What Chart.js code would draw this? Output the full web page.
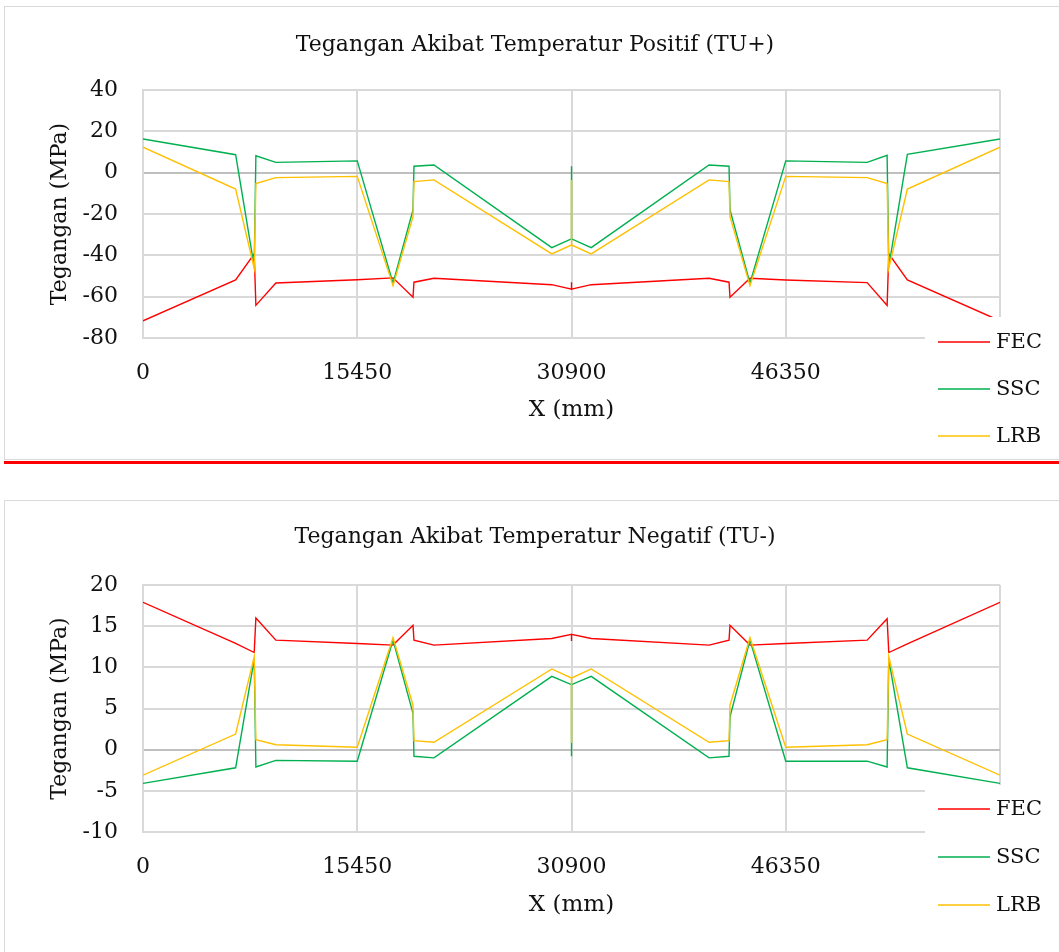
<!DOCTYPE html>
<html>
<head>
<meta charset="utf-8">
<script src="https://cdn.jsdelivr.net/npm/chart.js@4"></script>
<style>
  body { margin: 0; background: #fff; width: 1059px; height: 952px; overflow: hidden; position: relative; }
  .box { position: absolute; left: 4px; width: 1100px; border: 1.5px solid #d9d9d9; background: #fff; }
  .redline { position: absolute; left: 4px; right: 0; top: 461px; height: 3px; background: #ff0000; }
  canvas { position: absolute; left: 0; }
</style>
</head>
<body>
<div class="box" style="top:6px;height:452px"></div>
<div class="redline"></div>
<div class="box" style="top:500px;height:500px"></div>
<canvas id="chartPos" width="1059" height="460" style="top:0"></canvas>
<canvas id="chartNeg" width="1059" height="472" style="top:480px"></canvas>
<script>
// node positions along the girder (mm)
const xPos = [0, 6680, 8020, 8140, 9580, 15450, 18030, 19470, 19540, 20980, 29480,
  30900, 30900, 30900, 32320, 40820, 42260, 42330, 43770, 46350, 52220, 53660, 53780, 55120, 61800];
const xTicks = [0, 15450, 30900, 46350, 61800];

// TU+ (MPa)
const fecPos = [-71.7, -51.9, -39.3, -64.2, -53.4, -51.8, -50.9, -60.3, -53.0, -51.1, -54.2,
  -56.4, -53.0, -56.4, -54.2, -51.1, -53.0, -60.3, -51.1, -51.9, -53.2, -64.2, -39.3, -51.9, -71.7];
const sscPos = [16.3, 8.7, -45.5, 8.2, 5.0, 5.7, -53.5, -18.0, 3.1, 3.7, -36.3,
  -32.0, 3.1, -32.0, -36.3, 3.7, 3.1, -18.0, -53.5, 5.7, 5.0, 8.4, -45.5, 8.9, 16.3];
const lrbPos = [12.3, -7.9, -46.3, -5.3, -2.4, -1.8, -54.7, -21.3, -4.3, -3.5, -39.3,
  -35.0, -3.6, -35.0, -39.3, -3.5, -4.3, -21.3, -54.7, -1.8, -2.4, -5.3, -46.3, -7.9, 12.3];

// TU- (MPa)
const fecNeg = [17.9, 12.9, 11.8, 16.0, 13.3, 12.9, 12.7, 15.1, 13.3, 12.7, 13.5,
  14.0, 13.2, 14.0, 13.5, 12.7, 13.3, 15.1, 12.7, 12.9, 13.3, 15.9, 11.8, 12.85, 17.9];
const sscNeg = [-4.1, -2.2, 11.0, -2.1, -1.3, -1.4, 13.3, 4.4, -0.8, -1.0, 8.9,
  7.9, -0.8, 7.9, 8.9, -1.0, -0.8, 4.0, 13.3, -1.4, -1.4, -2.1, 11.0, -2.2, -4.1];
const lrbNeg = [-3.1, 1.9, 11.3, 1.2, 0.6, 0.3, 13.6, 5.4, 1.1, 0.9, 9.8,
  8.7, 0.8, 8.7, 9.8, 0.9, 1.1, 5.4, 13.6, 0.3, 0.6, 1.2, 11.3, 1.9, -3.1];

const seriesNames = ['FEC', 'SSC', 'LRB'];
const seriesColors = ['#ff0000', '#00b050', '#ffc000'];

const serif = 'DejaVu Serif';

// legend sits on a white patch over the lower right of the plot, like the Excel original
const boxLegend = {
  id: 'boxLegend',
  afterDraw(chart, args, opts) {
    const ctx = chart.ctx;
    ctx.save();
    ctx.fillStyle = '#fff';
    ctx.fillRect(opts.left, opts.top, chart.width - opts.left, opts.bottom - opts.top);
    ctx.font = '21px "' + serif + '"';
    ctx.textBaseline = 'middle';
    chart.data.datasets.forEach(function (ds, i) {
      const y = opts.firstY + i * opts.gap;
      ctx.strokeStyle = ds.borderColor;
      ctx.lineWidth = 1.3;
      ctx.beginPath();
      ctx.moveTo(938, y);
      ctx.lineTo(990, y);
      ctx.stroke();
      ctx.fillStyle = '#111';
      ctx.fillText(ds.label, 996, y + 1);
    });
    ctx.restore();
  }
};

function makeChart(id, title, values, yMin, yMax, yStep, lay) {
  const datasets = values.map(function (vals, i) {
    return {
      label: seriesNames[i],
      data: xPos.map(function (x, k) { return { x: x, y: vals[k] }; }),
      borderColor: seriesColors[i],
      backgroundColor: seriesColors[i],
      borderWidth: 1.4,
      pointRadius: 0,
      tension: 0,
      order: 2 - i
    };
  });
  return new Chart(document.getElementById(id), {
    type: 'line',
    data: { datasets: datasets },
    options: {
      responsive: false,
      animation: false,
      devicePixelRatio: 1,
      // left padding shifts the centred title right, as in the original
      layout: { padding: { left: 70, right: 59, top: 0, bottom: lay.padBottom } },
      plugins: {
        legend: { display: false },
        tooltip: { enabled: false },
        title: {
          display: true,
          text: title,
          color: '#111',
          font: { family: serif, size: 22, weight: 'normal', lineHeight: 1.2 },
          padding: { top: lay.titleTop, bottom: lay.titleBottom }
        },
        boxLegend: lay.legend
      },
      scales: {
        x: {
          type: 'linear',
          min: 0,
          max: 61800,
          afterBuildTicks: function (scale) { scale.ticks = xTicks.map(function (v) { return { value: v }; }); },
          afterFit: function (scale) { scale.height = 100; },
          ticks: {
            color: '#111',
            padding: 22,
            maxRotation: 0,
            font: { family: serif, size: 22 },
            callback: function (v) { return v === 61800 ? '' : String(v); }
          },
          grid: { color: '#d9d9d9', lineWidth: 2, drawTicks: false },
          border: { color: '#d9d9d9', width: 2 },
          title: {
            display: true,
            text: 'X (mm)',
            color: '#111',
            font: { family: serif, size: 23, lineHeight: 1.2 },
            padding: { top: 0, bottom: lay.xTitleBottom }
          }
        },
        y: {
          min: yMin,
          max: yMax,
          afterFit: function (scale) { scale.width = 73; },
          ticks: {
            stepSize: yStep,
            color: '#111',
            padding: 25,
            font: { family: serif, size: 22 }
          },
          grid: {
            color: function (c) { return c.tick && c.tick.value === 0 ? '#bfbfbf' : '#d9d9d9'; },
            lineWidth: 2,
            drawTicks: false
          },
          border: { color: '#d9d9d9', width: 2 },
          title: {
            display: true,
            text: 'Tegangan (MPa)',
            color: '#111',
            font: { family: serif, size: 22, lineHeight: 1.2 },
            padding: { top: -23, bottom: 0 }
          }
        }
      }
    },
    plugins: [boxLegend]
  });
}

makeChart('chartPos', 'Tegangan Akibat Temperatur Positif (TU+)', [fecPos, sscPos, lrbPos], -80, 40, 20, {
  padBottom: 22, titleTop: 32, titleBottom: 31.6, xTitleBottom: 14,
  legend: { left: 925, top: 317, bottom: 456, firstY: 342, gap: 47 }
});
makeChart('chartNeg', 'Tegangan Akibat Temperatur Negatif (TU-)', [fecNeg, sscNeg, lrbNeg], -10, 20, 5, {
  padBottom: 20, titleTop: 44, titleBottom: 34.6, xTitleBottom: 13,
  legend: { left: 925, top: 305, bottom: 472, firstY: 329, gap: 48 }
});
</script>
</body>
</html>
